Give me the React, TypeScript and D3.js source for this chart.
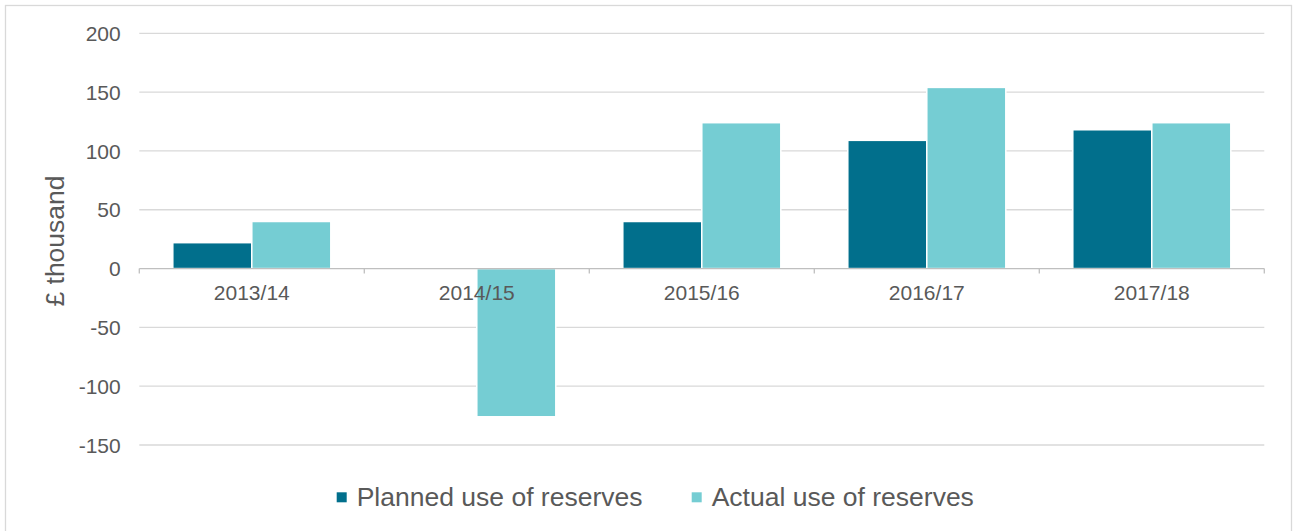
import React from "react";
import * as d3 from "d3";

const categories = ["2013/14", "2014/15", "2015/16", "2016/17", "2017/18"];
const planned = [22, 0, 40, 109, 118];
const actual = [40, -126, 124, 154, 124];
const yTicks = [-150, -100, -50, 0, 50, 100, 150, 200];
const seriesNames = ["Planned use of reserves", "Actual use of reserves"];
const seriesColors = ["#016F8C", "#75CDD3"];

const W = 1293;
const H = 531;
const FONT = "'Liberation Sans', Arial, sans-serif";
const TEXT = "#595959";

export default function App() {
  const y = d3.scaleLinear().domain([-150, 200]).range([445, 33.3]);
  const x = d3.scaleBand<string>().domain(categories).range([139.3, 1264.3]).padding(0);
  const xs = d3
    .scaleBand<string>()
    .domain(seriesNames)
    .range([0, x.bandwidth()])
    .paddingInner(0)
    .paddingOuter(0.424);
  const series = [planned, actual];
  const y0 = y(0);
  const left = x.range()[0];
  const right = x.range()[1];
  const legendX = [336.7, 691.7];

  return (
    <svg
      width={W}
      height={H}
      style={{ position: "fixed", left: 0, top: 0, background: "#fff" }}
      fontFamily={FONT}
    >
      <rect x={5.5} y={5.5} width={1286} height={540} fill="#fff" stroke="#d9d9d9" strokeWidth={1.3} />
      {yTicks.map((t) =>
        t === 0 ? null : (
          <line key={"g" + t} x1={left} x2={right} y1={y(t)} y2={y(t)} stroke="#d9d9d9" strokeWidth={1.3} />
        )
      )}
      {yTicks.map((t) => (
        <text key={"yl" + t} x={120.7} y={y(t) + 7.6} textAnchor="end" fontSize={21} fill={TEXT}>
          {t}
        </text>
      ))}
      {series.map((vals, si) =>
        vals.map((v, ci) =>
          v === 0 ? null : (
            <rect
              key={si + "-" + ci}
              x={(x(categories[ci]) as number) + (xs(seriesNames[si]) as number)}
              y={Math.min(y(v), y0)}
              width={xs.bandwidth()}
              height={Math.abs(y(v) - y0)}
              fill={seriesColors[si]}
              stroke="#fff"
              strokeWidth={1.5}
            />
          )
        )
      )}
      <line x1={left} x2={right} y1={y0} y2={y0} stroke="#bfbfbf" strokeWidth={1.3} />
      {[...categories.map((c) => x(c) as number), right].map((px, i) => (
        <line key={"tk" + i} x1={px} x2={px} y1={y0} y2={y0 + 5} stroke="#bfbfbf" strokeWidth={1.3} />
      ))}
      {categories.map((c) => (
        <text
          key={"xl" + c}
          x={(x(c) as number) + x.bandwidth() / 2}
          y={300}
          textAnchor="middle"
          fontSize={21}
          fill={TEXT}
        >
          {c}
        </text>
      ))}
      <text
        transform={`translate(64,241) rotate(-90)`}
        textAnchor="middle"
        fontSize={26.5}
        fill={TEXT}
      >
        £ thousand
      </text>
      {seriesNames.map((n, i) => (
        <g key={"lg" + i}>
          <rect x={legendX[i]} y={492.3} width={10} height={10} fill={seriesColors[i]} />
          <text x={legendX[i] + 20} y={506} fontSize={26.5} fill={TEXT}>
            {n}
          </text>
        </g>
      ))}
    </svg>
  );
}
